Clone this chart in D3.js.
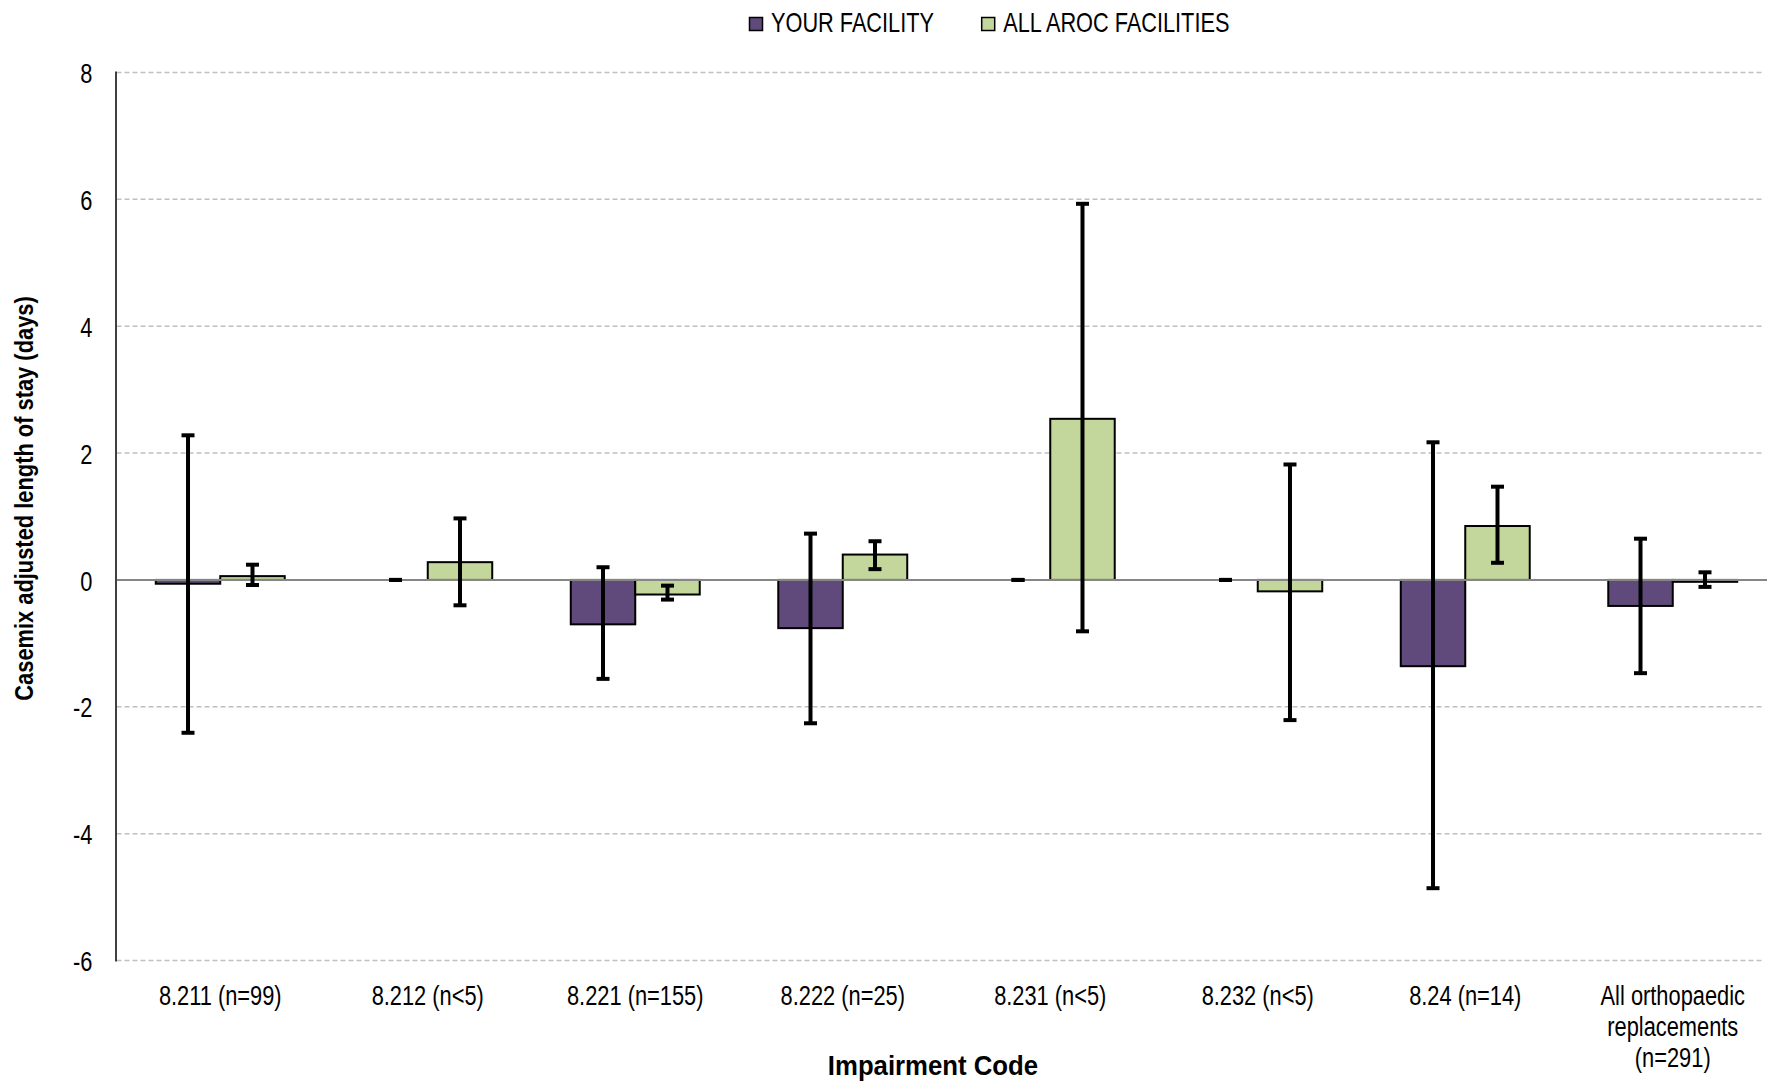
<!DOCTYPE html>
<html>
<head>
<meta charset="utf-8">
<script src="https://cdn.jsdelivr.net/npm/d3@7"></script>
<style>
  html, body { margin: 0; padding: 0; background: #fff; }
  svg { display: block; }
  text { font-family: "Liberation Sans", Arial, sans-serif; fill: #000; }
</style>
</head>
<body>
<svg id="chart" width="1767" height="1081"></svg>
<script>
// ---------------- DATA ----------------
const categories = ["8.211", "8.212", "8.221", "8.222", "8.231", "8.232", "8.24", "All"];
const categoryLabels = [
  ["8.211 (n=99)"],
  ["8.212 (n<5)"],
  ["8.221 (n=155)"],
  ["8.222 (n=25)"],
  ["8.231 (n<5)"],
  ["8.232 (n<5)"],
  ["8.24 (n=14)"],
  ["All orthopaedic", "replacements", "(n=291)"]
];
const seriesNames = ["YOUR FACILITY", "ALL AROC FACILITIES"];
const seriesColors = ["#604a7b", "#c3d69b"];

const facility     = [-0.06, 0.00, -0.70, -0.76, 0.00, 0.00, -1.36, -0.41];
const facilityLow  = [-2.41, 0.00, -1.56, -2.26, 0.00, 0.00, -4.86, -1.47];
const facilityHigh = [ 2.28, 0.00,  0.20,  0.73, 0.00, 0.00,  2.17,  0.65];

const aroc     = [ 0.06,  0.28, -0.23, 0.40,  2.54, -0.18, 0.85, -0.03];
const arocLow  = [-0.08, -0.40, -0.31, 0.17, -0.81, -2.21, 0.27, -0.11];
const arocHigh = [ 0.24,  0.97, -0.09, 0.61,  5.93,  1.82, 1.47,  0.12];

const yTicks = [-6, -4, -2, 0, 2, 4, 6, 8];
const yTitle = "Casemix adjusted length of stay (days)";
const xTitle = "Impairment Code";

// ---------------- LAYOUT ----------------
const svg = d3.select("#chart");
const plotLeft = 116.5, plotTop = 72.5, plotBottom = 960.5;
const bandStep = 207.5;
const plotRight = plotLeft + bandStep * categories.length;
const visibleRight = 1764;

const x = d3.scaleBand().domain(categories).range([plotLeft, plotRight]).padding(0);
const xs = d3.scaleBand().domain(seriesNames).range([0, x.bandwidth()])
  .paddingInner(0).paddingOuter(0.609);
const y = d3.scaleLinear().domain([-6, 8]).range([plotBottom, plotTop]);

const rows = categories.map((c, i) => ([
  {cat: c, s: seriesNames[0], v: facility[i], lo: facilityLow[i], hi: facilityHigh[i], color: seriesColors[0]},
  {cat: c, s: seriesNames[1], v: aroc[i], lo: arocLow[i], hi: arocHigh[i], color: seriesColors[1]}
])).flat();

// gridlines
svg.append("g").selectAll("line")
  .data(yTicks.filter(t => t !== 0))
  .join("line")
  .attr("x1", plotLeft).attr("x2", visibleRight)
  .attr("y1", d => y(d)).attr("y2", d => y(d))
  .attr("stroke", "#c0c0c0").attr("stroke-width", 1.5)
  .attr("stroke-dasharray", "5,3");

// bars
svg.append("g").selectAll("rect")
  .data(rows.filter(d => d.v !== 0))
  .join("rect")
  .attr("x", d => x(d.cat) + xs(d.s))
  .attr("width", xs.bandwidth())
  .attr("y", d => y(Math.max(0, d.v)))
  .attr("height", d => Math.abs(y(d.v) - y(0)))
  .attr("fill", d => d.color)
  .attr("stroke", "#000").attr("stroke-width", 2);

// zero line
svg.append("line")
  .attr("x1", plotLeft).attr("x2", 1767)
  .attr("y1", y(0)).attr("y2", y(0))
  .attr("stroke", "#868686").attr("stroke-width", 2);

// y axis line
svg.append("line")
  .attr("x1", plotLeft - 0.5).attr("x2", plotLeft - 0.5)
  .attr("y1", y(8) - 1).attr("y2", y(-6) + 1)
  .attr("stroke", "#404040").attr("stroke-width", 2);

// error bars
const eb = svg.append("g").attr("stroke", "#000").attr("stroke-width", 4);
const cx = d => x(d.cat) + xs(d.s) + xs.bandwidth() / 2;
eb.selectAll("line.v").data(rows).join("line").attr("class", "v")
  .attr("x1", cx).attr("x2", cx)
  .attr("y1", d => y(d.hi)).attr("y2", d => y(d.lo));
eb.selectAll("line.ch").data(rows).join("line").attr("class", "ch")
  .attr("x1", d => cx(d) - 6.5).attr("x2", d => cx(d) + 6.5)
  .attr("y1", d => y(d.hi)).attr("y2", d => y(d.hi));
eb.selectAll("line.cl").data(rows).join("line").attr("class", "cl")
  .attr("x1", d => cx(d) - 6.5).attr("x2", d => cx(d) + 6.5)
  .attr("y1", d => y(d.lo)).attr("y2", d => y(d.lo));

// y axis ticks
const tickSX = 0.78;
const yAxisG = svg.append("g").attr("transform", `translate(${plotLeft},0)`)
  .call(d3.axisLeft(y).tickValues(yTicks).tickSize(0).tickPadding(24).tickFormat(d => String(d)));
yAxisG.select(".domain").remove();
yAxisG.selectAll("text")
  .attr("font-size", 28).attr("font-family", "Liberation Sans, Arial, sans-serif")
  .attr("x", -24 / tickSX).attr("dy", "0.36em")
  .attr("transform", `scale(${tickSX},1)`);

// x axis labels
const xAxisG = svg.append("g").attr("transform", `translate(0,${plotBottom})`)
  .call(d3.axisBottom(x).tickSize(0).tickFormat(() => ""));
xAxisG.select(".domain").remove();
xAxisG.selectAll(".tick text").remove();
xAxisG.selectAll(".tick").each(function(d, i) {
  const t = d3.select(this).append("text")
    .attr("text-anchor", "middle").attr("font-size", 28)
    .attr("transform", `scale(${tickSX},1)`);
  categoryLabels[i].forEach((line, k) => {
    t.append("tspan").attr("x", 0).attr("y", 44.5 + k * 31).text(line);
  });
});

// axis titles
svg.append("g").attr("transform", `translate(933,1075) scale(0.92,1)`)
  .append("text").attr("text-anchor", "middle").attr("font-size", 28)
  .attr("font-weight", "bold").text(xTitle);
svg.append("g").attr("transform", `translate(33,498.5) rotate(-90) scale(0.875,1)`)
  .append("text").attr("text-anchor", "middle").attr("font-size", 25)
  .attr("font-weight", "bold").text(yTitle);

// legend
const legendX = [749.5, 981.7];
const lg = svg.append("g").selectAll("g").data(seriesNames).join("g")
  .attr("transform", (d, i) => `translate(${legendX[i]},17.5)`);
lg.append("rect").attr("width", 13).attr("height", 13)
  .attr("fill", (d, i) => seriesColors[i]).attr("stroke", "#000").attr("stroke-width", 1.5);
lg.append("g").attr("transform", "translate(21.5,14.5) scale(0.805,1)")
  .append("text").attr("font-size", 27).text(d => d);
</script>
</body>
</html>
